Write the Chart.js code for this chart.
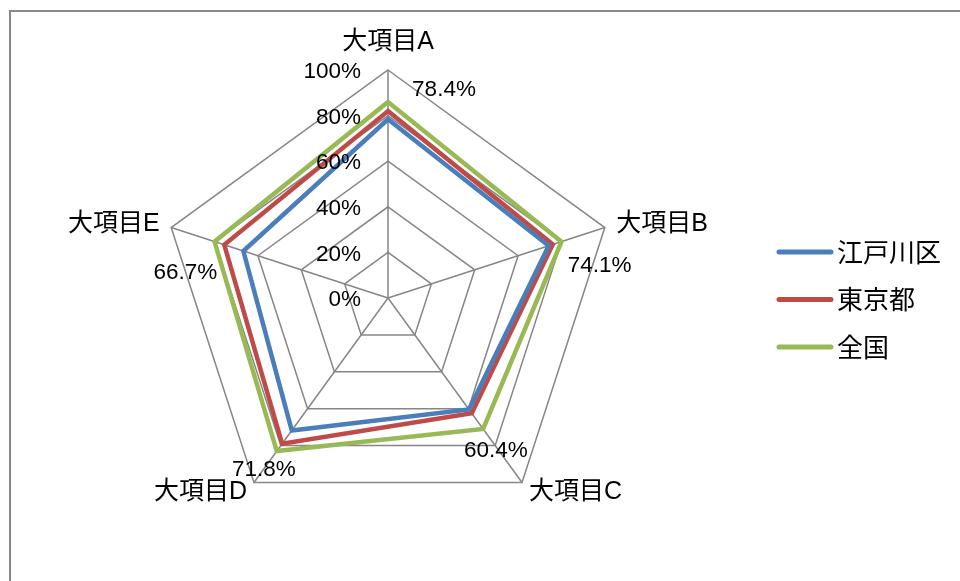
<!DOCTYPE html>
<html>
<head>
<meta charset="utf-8">
<script src="https://cdn.jsdelivr.net/npm/chart.js@4"></script>
<style>
  html, body { margin: 0; padding: 0; background: #fff; }
  #wrap { width: 960px; height: 581px; position: relative; }
</style>
</head>
<body>
<div id="wrap"><canvas id="c" width="960" height="581"></canvas></div>
<script>
// Categories and series (percent)
const categories = ['大項目A', '大項目B', '大項目C', '大項目D', '大項目E'];
const edogawa = [78.4, 74.1, 60.4, 71.8, 66.7];
const tokyo   = [82.0, 76.0, 62.5, 79.0, 75.5];
const zenkoku = [86.0, 80.0, 71.0, 83.0, 80.0];
const tickValues = [0, 20, 40, 60, 80, 100];
const seriesNames = ['江戸川区', '東京都', '全国'];

const COLORS = ['#4A7EBB', '#BE4B48', '#98B954'];
const LATIN = '22.5px "Liberation Sans", "Noto Sans CJK JP", sans-serif';
const CATFONT = '25px "Liberation Sans", "Noto Sans CJK JP", sans-serif';
const LEGFONT = '26px "Noto Sans CJK JP", sans-serif';

// Value labels on the first series: offset of the text centre from its point
const valueLabelOffsets = [[56, -29], [51, 20], [27, 41], [-28, 39], [-58, 22]];

const framePlugin = {
  id: 'frame',
  beforeDraw(chart) {
    const ctx = chart.ctx;
    ctx.save();
    ctx.strokeStyle = '#888888';
    ctx.lineWidth = 2;
    ctx.strokeRect(10, 11, 1000, 700);
    ctx.restore();
  }
};

const labelsPlugin = {
  id: 'radarLabels',
  afterDraw(chart) {
    const ctx = chart.ctx;
    const scale = chart.scales.r;
    ctx.save();
    ctx.fillStyle = '#000';

    // tick labels, right aligned left of the vertical spoke
    ctx.font = LATIN;
    ctx.textAlign = 'right';
    ctx.textBaseline = 'middle';
    tickValues.forEach(v => {
      const d = scale.getDistanceFromCenterForValue(v);
      ctx.fillText(v + '%', scale.xCenter - 27, scale.yCenter - d + 2);
    });

    // category labels around the web
    ctx.font = CATFONT;
    categories.forEach((name, i) => {
      const extra = i === 0 ? 28 : 12;
      const p = scale.getPointPosition(i, scale.drawingArea + extra);
      let align = 'center';
      if (i === 1 || i === 2) align = 'left';
      if (i === 3 || i === 4) align = 'right';
      ctx.textAlign = align;
      ctx.textBaseline = 'middle';
      ctx.fillText(name, p.x, p.y);
    });

    // value labels of the first series
    ctx.font = LATIN;
    ctx.textAlign = 'center';
    const meta = chart.getDatasetMeta(0);
    meta.data.forEach((pt, i) => {
      const o = valueLabelOffsets[i];
      ctx.fillText(edogawa[i].toFixed(1) + '%', pt.x + o[0], pt.y + o[1]);
    });

    // legend
    chart.data.datasets.forEach((ds, i) => {
      const y = 252 + i * 47.5;
      ctx.strokeStyle = ds.borderColor;
      ctx.lineWidth = 5;
      ctx.lineCap = 'round';
      ctx.beginPath();
      ctx.moveTo(779, y);
      ctx.lineTo(831, y);
      ctx.stroke();
      ctx.font = LEGFONT;
      ctx.textAlign = 'left';
      ctx.textBaseline = 'middle';
      ctx.fillText(ds.label, 837, y);
    });
    ctx.restore();
  }
};

const datasets = [edogawa, tokyo, zenkoku].map((vals, i) => ({
  label: seriesNames[i],
  data: vals,
  borderColor: COLORS[i],
  backgroundColor: COLORS[i],
  borderWidth: 4.5,
  borderJoinStyle: 'miter',
  fill: false,
  pointRadius: 0,
  pointHoverRadius: 0,
  order: i
}));

new Chart(document.getElementById('c'), {
  type: 'radar',
  data: { labels: categories, datasets },
  options: {
    responsive: false,
    animation: false,
    events: [],
    layout: { padding: { left: 160, right: 344, top: 70, bottom: 55 } },
    plugins: { legend: { display: false }, tooltip: { enabled: false } },
    elements: { line: { tension: 0 } },
    scales: {
      r: {
        min: 0,
        max: 100,
        ticks: { stepSize: 20, display: false },
        grid: { color: '#868686', lineWidth: 1.5 },
        angleLines: { color: '#868686', lineWidth: 1.5 },
        pointLabels: { display: false }
      }
    }
  },
  plugins: [framePlugin, labelsPlugin]
});
</script>
</body>
</html>
